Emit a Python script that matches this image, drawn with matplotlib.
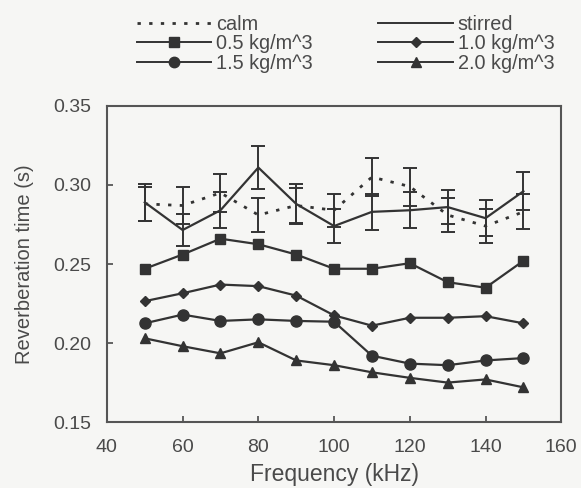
import matplotlib.pyplot as plt
from matplotlib.lines import Line2D

plt.rcParams.update({
    "font.family": ["Liberation Sans", "DejaVu Sans"],
    "font.size": 14,
    "text.color": "#4a4a4a",
    "axes.labelcolor": "#4a4a4a",
    "xtick.color": "#4a4a4a",
    "ytick.color": "#4a4a4a",
})

freq = [50, 60, 70, 80, 90, 100, 110, 120, 130, 140, 150]

calm = [0.288, 0.287, 0.295, 0.281, 0.287, 0.284, 0.305, 0.299, 0.281, 0.274, 0.283]
calm_err = [0.011, 0.012, 0.012, 0.011, 0.011, 0.0105, 0.012, 0.012, 0.011, 0.011, 0.011]
stirred = [0.289, 0.2715, 0.284, 0.311, 0.288, 0.274, 0.283, 0.284, 0.286, 0.279, 0.296]
stirred_err = [0.0115, 0.010, 0.0115, 0.0135, 0.0125, 0.011, 0.0115, 0.0115, 0.011, 0.0115, 0.012]

conc_05 = [0.247, 0.256, 0.266, 0.2625, 0.256, 0.247, 0.247, 0.2505, 0.2385, 0.235, 0.252]
conc_10 = [0.2265, 0.2315, 0.237, 0.236, 0.230, 0.2175, 0.211, 0.216, 0.216, 0.217, 0.2125]
conc_15 = [0.2125, 0.218, 0.214, 0.215, 0.214, 0.2135, 0.192, 0.187, 0.186, 0.189, 0.1905]
conc_20 = [0.203, 0.198, 0.1935, 0.2005, 0.189, 0.186, 0.1815, 0.178, 0.175, 0.177, 0.172]

x_ticks = [40, 60, 80, 100, 120, 140, 160]
y_ticks = [0.15, 0.20, 0.25, 0.30, 0.35]

ink = "#333333"

fig = plt.figure(figsize=(5.81, 4.88), dpi=100, facecolor="#f6f6f4")
ax = fig.add_axes([0.184, 0.135, 0.782, 0.648])
ax.set_facecolor("#f6f6f4")

# calm / stirred with error bars
ax.errorbar(freq, calm, yerr=calm_err, color=ink, lw=2, ls=(0, (1.2, 3)),
            elinewidth=1.4, capsize=5, capthick=1.4)
ax.errorbar(freq, stirred, yerr=stirred_err, color=ink, lw=1.6,
            elinewidth=1.4, capsize=5, capthick=1.4)

series = [(conc_05, "s", 7.5), (conc_10, "D", 5.5), (conc_15, "o", 8), (conc_20, "^", 7.5)]
for vals, mk, ms in series:
    ax.plot(freq, vals, color=ink, lw=1.6, marker=mk, ms=ms, mfc=ink, mec=ink)

ax.set_xlim(40, 160)
ax.set_ylim(0.15, 0.35)
ax.set_xticks(x_ticks)
ax.set_yticks(y_ticks)
ax.set_yticklabels([f"{v:.2f}" for v in y_ticks])
ax.tick_params(direction="in", length=4, width=1.2, top=False, right=False, labelsize=14)
ax.tick_params(axis="x", pad=12)
ax.tick_params(axis="y", pad=11)
for sp in ax.spines.values():
    sp.set_color("#555555")
    sp.set_linewidth(1.5)
ax.set_xlabel("Frequency (kHz)", fontsize=16.5, labelpad=5)
ax.set_ylabel("Reverberation time (s)", fontsize=14.5, labelpad=14)

handles = [
    Line2D([], [], color=ink, lw=2, ls=(0, (1.2, 3))),
    Line2D([], [], color=ink, lw=1.4, marker="s", ms=7),
    Line2D([], [], color=ink, lw=1.4, marker="o", ms=7.5),
    Line2D([], [], color=ink, lw=1.4),
    Line2D([], [], color=ink, lw=1.4, marker="D", ms=5),
    Line2D([], [], color=ink, lw=1.4, marker="^", ms=7),
]
labels = ["calm", "0.5 kg/m^3", "1.5 kg/m^3", "stirred", "1.0 kg/m^3", "2.0 kg/m^3"]
fig.legend(handles, labels, ncol=2, frameon=False, loc="upper left",
           bbox_to_anchor=(0.206, 1.004), handlelength=3.75, handletextpad=0.25,
           labelspacing=0.02, columnspacing=3.3, fontsize=14.3, borderpad=0.35)

fig.savefig("out.png", dpi=100, facecolor=fig.get_facecolor())
